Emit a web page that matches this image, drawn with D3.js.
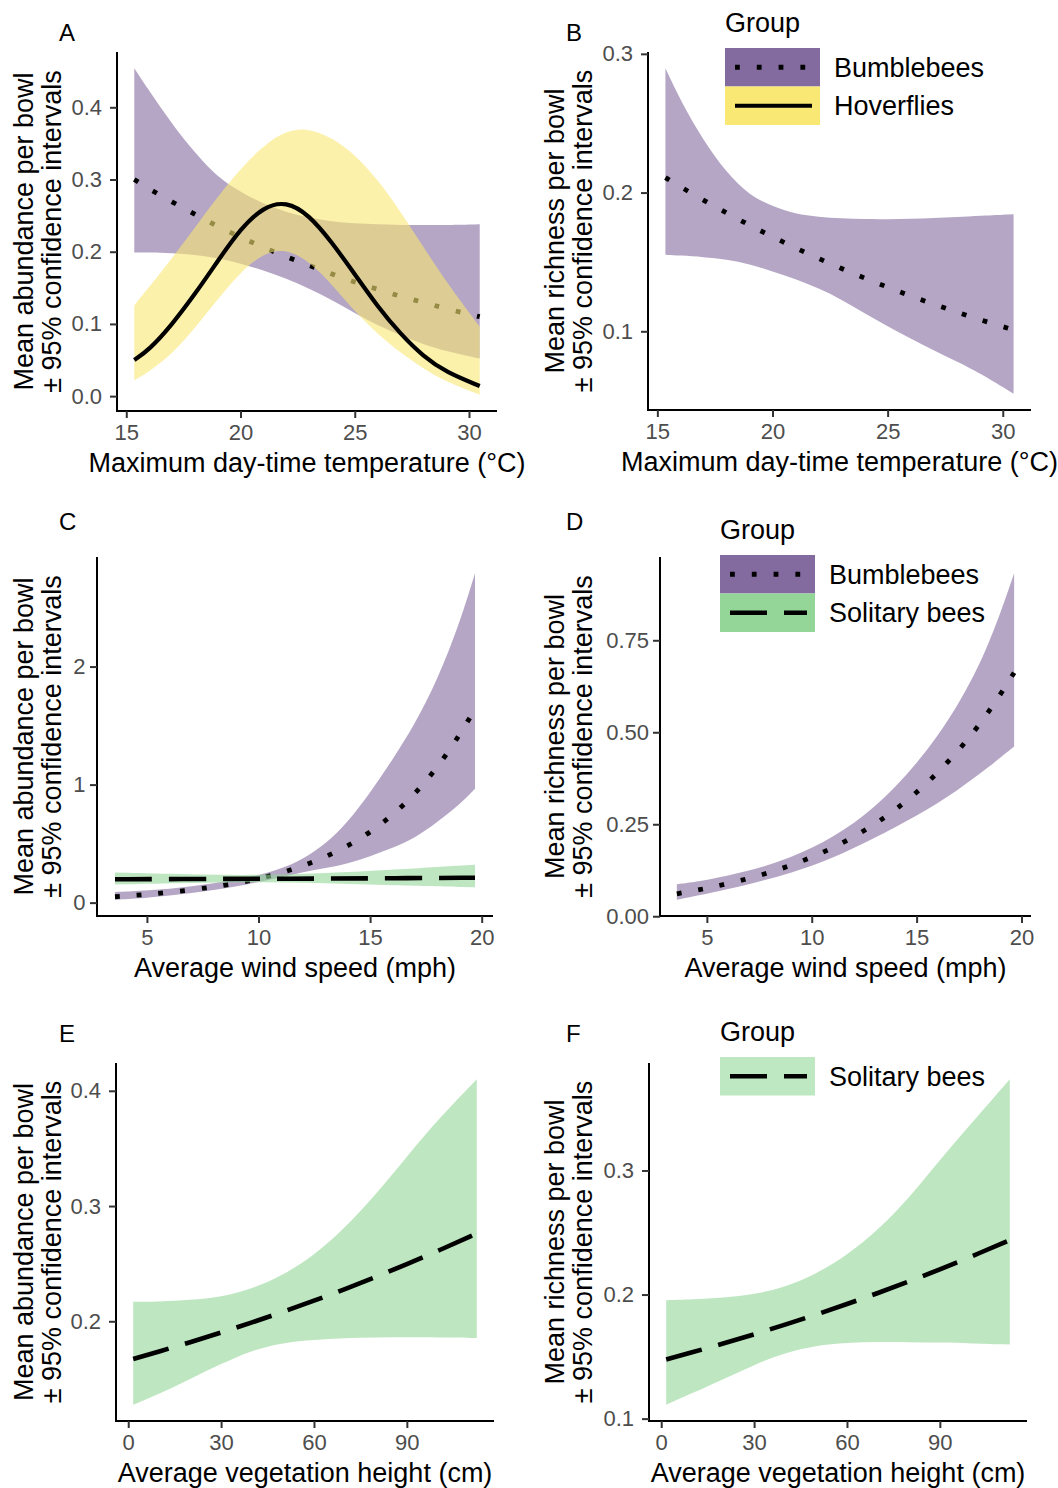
<!DOCTYPE html>
<html><head><meta charset="utf-8">
<script src="https://cdn.jsdelivr.net/npm/d3@7"></script>
<style>
body{margin:0;background:#fff}
text{font-family:"Liberation Sans",Arial,sans-serif}
</style>
</head><body>
<svg id="c" width="1058" height="1488"></svg>
<script>
// ---------------- DATA ----------------
// Panel A / B : maximum day-time temperature (°C)
const tempX = [15.35, 16, 17, 18, 19, 20, 21, 22, 23, 24, 25, 26, 27, 28, 29, 30.47];
const aBumbleFit = [0.300, 0.287, 0.269, 0.252, 0.235, 0.220, 0.206, 0.193, 0.181, 0.169, 0.158, 0.148, 0.138, 0.130, 0.121, 0.110];
const aBumbleLo  = [0.199, 0.199, 0.198, 0.196, 0.191, 0.184, 0.174, 0.163, 0.149, 0.133, 0.115, 0.098, 0.084, 0.072, 0.062, 0.052];
const aBumbleHi  = [0.454, 0.423, 0.377, 0.337, 0.303, 0.283, 0.266, 0.255, 0.247, 0.242, 0.239, 0.238, 0.237, 0.237, 0.237, 0.238];
const aHoverFit  = [0.050, 0.064, 0.099, 0.141, 0.187, 0.232, 0.262, 0.270, 0.251, 0.213, 0.169, 0.124, 0.086, 0.055, 0.033, 0.014];
const aHoverLo   = [0.022, 0.034, 0.058, 0.094, 0.134, 0.172, 0.198, 0.204, 0.187, 0.155, 0.117, 0.086, 0.060, 0.038, 0.020, 0.002];
const aHoverHi   = [0.126, 0.151, 0.191, 0.233, 0.276, 0.315, 0.347, 0.368, 0.371, 0.358, 0.335, 0.300, 0.256, 0.207, 0.158, 0.096];
const bBumbleFit = [0.2108, 0.2042, 0.1945, 0.1853, 0.1765, 0.1681, 0.1601, 0.1525, 0.1452, 0.1383, 0.1318, 0.1255, 0.1195, 0.1139, 0.1084, 0.1010];
const bBumbleLo  = [0.1551, 0.1547, 0.1535, 0.1518, 0.1485, 0.1432, 0.1377, 0.1310, 0.1230, 0.1128, 0.1035, 0.0948, 0.0863, 0.0783, 0.0700, 0.0550];
const bBumbleHi  = [0.2896, 0.2665, 0.2375, 0.2145, 0.1980, 0.1900, 0.1845, 0.1825, 0.1814, 0.1808, 0.1808, 0.1810, 0.1816, 0.1824, 0.1832, 0.1844];

// Panel C / D : average wind speed (mph)
const windX = [3.57, 5, 7, 9, 10, 11, 12, 13, 14, 15, 16, 17, 18, 19, 19.7];
const cBumbleFit = [0.050, 0.068, 0.105, 0.162, 0.201, 0.250, 0.311, 0.386, 0.479, 0.595, 0.739, 0.918, 1.140, 1.416, 1.640];
const cBumbleLo  = [0.025, 0.040, 0.080, 0.135, 0.175, 0.215, 0.258, 0.292, 0.330, 0.392, 0.462, 0.545, 0.680, 0.830, 0.965];
const cBumbleHi  = [0.090, 0.100, 0.135, 0.192, 0.232, 0.285, 0.370, 0.495, 0.680, 0.930, 1.210, 1.510, 1.880, 2.360, 2.790];
const windSolX = [3.57, 7, 10, 13, 16, 19.7];
const cSolFit = [0.198, 0.200, 0.202, 0.204, 0.207, 0.211];
const cSolLo  = [0.154, 0.168, 0.175, 0.165, 0.148, 0.130];
const cSolHi  = [0.255, 0.238, 0.232, 0.248, 0.278, 0.322];
const windDX = [3.57, 5, 7, 9, 11, 13, 15, 17, 18.5, 19.65];
const dBumbleFit = [0.061, 0.0754, 0.1015, 0.1365, 0.1836, 0.247, 0.332, 0.447, 0.558, 0.662];
const dBumbleLo  = [0.045, 0.061, 0.086, 0.117, 0.157, 0.213, 0.272, 0.343, 0.408, 0.461];
const dBumbleHi  = [0.087, 0.098, 0.122, 0.158, 0.212, 0.293, 0.410, 0.570, 0.740, 0.932];

// Panel E / F : average vegetation height (cm)
const vegX = [1.6, 10, 20, 30, 40, 50, 60, 70, 80, 90, 100, 112.6];
const eSolFit = [0.1673, 0.1738, 0.1818, 0.1902, 0.1990, 0.2082, 0.2178, 0.2279, 0.2385, 0.2495, 0.2610, 0.2763];
const eSolLo  = [0.1276, 0.1370, 0.1500, 0.1630, 0.1750, 0.1815, 0.1840, 0.1853, 0.1860, 0.1861, 0.1860, 0.1855];
const eSolHi  = [0.2170, 0.2170, 0.2185, 0.2210, 0.2280, 0.2400, 0.2570, 0.2810, 0.3100, 0.3430, 0.3750, 0.4100];
const fSolFit = [0.1477, 0.1534, 0.1605, 0.1679, 0.1757, 0.1838, 0.1923, 0.2012, 0.2105, 0.2203, 0.2304, 0.2439];
const fSolLo  = [0.1112, 0.1205, 0.1317, 0.1435, 0.1530, 0.1590, 0.1612, 0.1618, 0.1617, 0.1613, 0.1607, 0.1597];
const fSolHi  = [0.1955, 0.1960, 0.1975, 0.2000, 0.2060, 0.2165, 0.2315, 0.2520, 0.2775, 0.3085, 0.3375, 0.3735];

// Tick labels
const tempTicks = [15, 20, 25, 30];
const windTicks = [5, 10, 15, 20];
const vegTicks = [0, 30, 60, 90];
const aYTicks = [0.0, 0.1, 0.2, 0.3, 0.4];
const bYTicks = [0.1, 0.2, 0.3];
const cYTicks = [0, 1, 2];
const dYTicks = [0.00, 0.25, 0.50, 0.75];
const eYTicks = [0.2, 0.3, 0.4];
const fYTicks = [0.1, 0.2, 0.3];

const groups = ["Bumblebees", "Hoverflies", "Solitary bees"];

// ---------------- STYLE ----------------
const STY = {
  "Bumblebees":    {fill: "#836A9F", dash: "4.8,17", width: 4.8},
  "Hoverflies":    {fill: "#F9E873", dash: null, width: 4.2},
  "Solitary bees": {fill: "#93D697", dash: "37,17", width: 4.6}
};
const BAND_OPACITY = 0.6;
const TITLE_PX = 27;

const svg = d3.select("#c");

function expand(ext) { const r = ext[1] - ext[0]; return [ext[0] - 0.05 * r, ext[1] + 0.05 * r]; }

function drawPanel(p) {
  const g = svg.append("g");
  const allX = p.series.flatMap(s => s.x);
  const allY = p.series.flatMap(s => s.lo.concat(s.hi));
  const x = d3.scaleLinear().domain(expand(d3.extent(allX))).range([p.left, p.right]);
  const y = d3.scaleLinear().domain(expand(d3.extent(allY))).range([p.bottom, p.top]);

  p.series.forEach(s => {
    const st = STY[s.group];
    const pts = s.x.map((xv, i) => ({x: xv, lo: s.lo[i], hi: s.hi[i], fit: s.fit[i]}));
    g.append("path").datum(pts)
      .attr("d", d3.area().x(d => x(d.x)).y0(d => y(d.lo)).y1(d => y(d.hi)).curve(d3.curveBasis))
      .attr("fill", st.fill).attr("fill-opacity", BAND_OPACITY);
    const ln = g.append("path").datum(pts)
      .attr("d", d3.line().x(d => x(d.x)).y(d => y(d.fit)).curve(d3.curveBasis))
      .attr("fill", "none").attr("stroke", "#000").attr("stroke-width", st.width);
    if (st.dash) ln.attr("stroke-dasharray", st.dash);
  });

  const xa = g.append("g").attr("transform", `translate(0,${p.bottom})`)
    .call(d3.axisBottom(x).tickValues(p.xTicks).tickSize(7).tickSizeOuter(0).tickPadding(6).tickFormat(d3.format("d")));
  const ya = g.append("g").attr("transform", `translate(${p.left},0)`)
    .call(d3.axisLeft(y).tickValues(p.yTicks).tickSize(7).tickSizeOuter(0).tickPadding(p.yPad).tickFormat(d3.format(p.yFmt)));
  [xa, ya].forEach(a => {
    a.select(".domain").attr("stroke", "#000").attr("stroke-width", 2);
    a.selectAll(".tick line").attr("stroke", "#333").attr("stroke-width", 2);
    a.selectAll(".tick text").attr("fill", "#4D4D4D").style("font-size", "22px")
      .style("font-family", '"Liberation Sans", Arial, sans-serif');
  });
  ya.select(".domain").attr("d", `M0,${p.top}V${p.bottom + 1}`);
  xa.select(".domain").attr("d", `M${p.left - 1},0H${p.right}`);

  g.append("text").attr("x", (p.left + p.right) / 2).attr("y", p.bottom + 61)
    .attr("text-anchor", "middle").style("font-size", TITLE_PX + "px").attr("fill", "#000").text(p.xTitle);
  const cy = (p.top + p.bottom) / 2;
  [[p.yTitleX, p.yTitle], [p.yTitleX + 28.4, "± 95% confidence intervals"]].forEach(([tx, t]) => {
    g.append("text").attr("transform", `translate(${tx},${cy}) rotate(-90)`)
      .attr("text-anchor", "middle").style("font-size", TITLE_PX + "px").attr("fill", "#000").text(t);
  });
  g.append("text").attr("x", p.letterX).attr("y", p.letterY).style("font-size", "24px")
    .attr("fill", "#000").text(p.letter);
}

function drawLegend(lx, ty, items) {
  const g = svg.append("g");
  g.append("text").attr("x", lx).attr("y", ty).style("font-size", TITLE_PX + "px").attr("fill", "#000").text("Group");
  const kh = 38.5, kw = 95, k0 = ty + 16;
  items.forEach((it, i) => {
    const st = STY[it.group];
    const yy = k0 + i * kh;
    g.append("rect").attr("x", lx).attr("y", yy).attr("width", kw).attr("height", kh).attr("fill", it.fill || st.fill);
    const l = g.append("line").attr("x1", lx + 10).attr("x2", lx + 87).attr("y1", yy + kh / 2).attr("y2", yy + kh / 2)
      .attr("stroke", "#000").attr("stroke-width", st.width);
    if (st.dash) l.attr("stroke-dasharray", st.dash);
    g.append("text").attr("x", lx + 109).attr("y", yy + kh / 2).attr("dy", "0.35em")
      .style("font-size", TITLE_PX + "px").attr("fill", "#000").text(it.group);
  });
}

const tempTitle = "Maximum day-time temperature (°C)";
const windTitle = "Average wind speed (mph)";
const vegTitle = "Average vegetation height (cm)";

drawPanel({letter: "A", letterX: 59, letterY: 41, left: 117, right: 497, top: 52, bottom: 411,
  xTicks: tempTicks, yTicks: aYTicks, yFmt: ".1f", yPad: 8, xTitle: tempTitle, yTitle: "Mean abundance per bowl", yTitleX: 33,
  series: [
    {group: groups[0], x: tempX, fit: aBumbleFit, lo: aBumbleLo, hi: aBumbleHi},
    {group: groups[1], x: tempX, fit: aHoverFit, lo: aHoverLo, hi: aHoverHi}
  ]});
drawPanel({letter: "B", letterX: 566, letterY: 41, left: 648, right: 1031, top: 52, bottom: 410,
  xTicks: tempTicks, yTicks: bYTicks, yFmt: ".1f", yPad: 8, xTitle: tempTitle, yTitle: "Mean richness per bowl", yTitleX: 564,
  series: [
    {group: groups[0], x: tempX, fit: bBumbleFit, lo: bBumbleLo, hi: bBumbleHi}
  ]});
drawPanel({letter: "C", letterX: 59, letterY: 530, left: 97, right: 493, top: 557, bottom: 916,
  xTicks: windTicks, yTicks: cYTicks, yFmt: "d", yPad: 4.5, xTitle: windTitle, yTitle: "Mean abundance per bowl", yTitleX: 33,
  series: [
    {group: groups[0], x: windX, fit: cBumbleFit, lo: cBumbleLo, hi: cBumbleHi},
    {group: groups[2], x: windSolX, fit: cSolFit, lo: cSolLo, hi: cSolHi}
  ]});
drawPanel({letter: "D", letterX: 566, letterY: 530, left: 660, right: 1031, top: 557, bottom: 916,
  xTicks: windTicks, yTicks: dYTicks, yFmt: ".2f", yPad: 4, xTitle: windTitle, yTitle: "Mean richness per bowl", yTitleX: 564,
  series: [
    {group: groups[0], x: windDX, fit: dBumbleFit, lo: dBumbleLo, hi: dBumbleHi}
  ]});
drawPanel({letter: "E", letterX: 59, letterY: 1042, left: 116, right: 494, top: 1063, bottom: 1421,
  xTicks: vegTicks, yTicks: eYTicks, yFmt: ".1f", yPad: 8, xTitle: vegTitle, yTitle: "Mean abundance per bowl", yTitleX: 33,
  series: [
    {group: groups[2], x: vegX, fit: eSolFit, lo: eSolLo, hi: eSolHi}
  ]});
drawPanel({letter: "F", letterX: 566, letterY: 1042, left: 649, right: 1027, top: 1063, bottom: 1421,
  xTicks: vegTicks, yTicks: fYTicks, yFmt: ".1f", yPad: 8, xTitle: vegTitle, yTitle: "Mean richness per bowl", yTitleX: 564,
  series: [
    {group: groups[2], x: vegX, fit: fSolFit, lo: fSolLo, hi: fSolHi}
  ]});

drawLegend(725, 32, [{group: groups[0]}, {group: groups[1]}]);
drawLegend(720, 539, [{group: groups[0]}, {group: groups[2]}]);
drawLegend(720, 1041, [{group: groups[2], fill: "#BDE8C1"}]);
</script>
</body></html>
